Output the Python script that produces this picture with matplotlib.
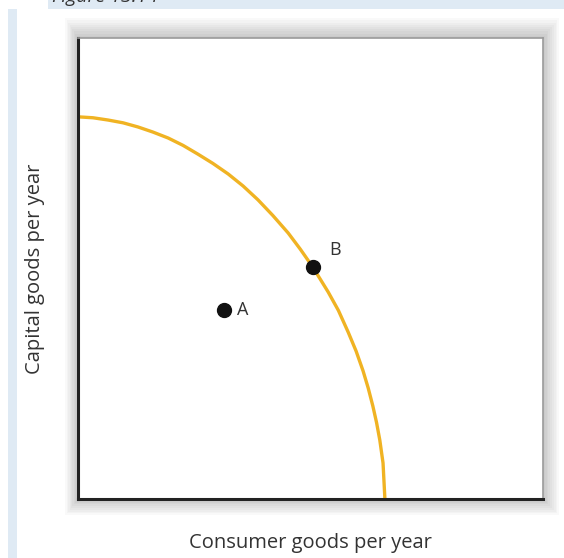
import matplotlib.pyplot as plt
from matplotlib.patches import Rectangle

# production possibilities curve (0-100 scale)
curve_x = [0, 3.2, 6.5, 9.7, 12.9, 16.1, 19.4, 22.6, 25.8, 29.0, 32.3, 35.5, 38.7, 41.9, 45.2,
           47.8, 50.5, 53.8, 56.0, 58.1, 59.8, 61.3, 62.4, 63.4, 64.2, 64.9, 65.6, 66.0]
curve_y = [82.9, 82.7, 82.2, 81.6, 80.7, 79.6, 78.3, 76.7, 74.8, 72.8, 70.5, 67.9, 64.9, 61.5, 57.7,
           54.2, 50.3, 44.9, 40.9, 36.2, 32.1, 27.8, 24.1, 20.2, 16.6, 12.8, 7.8, 0]

point_names = ['A', 'B']
point_x = [31.4, 50.5]
point_y = [41.0, 50.3]

W, H = 564, 558
fig = plt.figure(figsize=(W / 100, H / 100), dpi=100)
fig.patch.set_facecolor('white')

def fx(px):
    return px / W

def fy(py):
    return 1 - py / H

# light blue page bands
blue = '#dfeaf4'
fig.patches.append(Rectangle((fx(48), fy(9)), 1, 9 / H, transform=fig.transFigure,
                             facecolor=blue, edgecolor='none', zorder=0))
fig.patches.append(Rectangle((fx(8), 0), 9 / W, fy(9), transform=fig.transFigure,
                             facecolor=blue, edgecolor='none', zorder=0))
fig.text(fx(52), fy(2), 'Figure 13.14', fontsize=14, style='italic', color='#333333',
         family='Open Sans', va='baseline')

# soft shadow around the plot box
left, top, right, bottom = 78, 38, 543, 499
for pad in range(18, 0, -2):
    fig.patches.append(Rectangle((fx(left - pad * 0.7), fy(bottom + pad * 0.9)),
                                 (right - left + pad * 1.6) / W, (bottom - top + pad * 2.0) / H,
                                 transform=fig.transFigure, facecolor='black',
                                 edgecolor='none', alpha=0.025, zorder=0))

ax = fig.add_axes([fx(left), fy(bottom), (right - left) / W, (bottom - top) / H])
ax.set_zorder(5)
ax.set_facecolor('white')
ax.set_xlim(0, 100)
ax.set_ylim(0, 100)
ax.set_xticks([])
ax.set_yticks([])
for s in ['left', 'bottom']:
    ax.spines[s].set_linewidth(2.2)
    ax.spines[s].set_color('#222222')
for s in ['top', 'right']:
    ax.spines[s].set_linewidth(1.2)
    ax.spines[s].set_color('#9a9a9a')

ax.plot(curve_x, curve_y, color='#F0B323', linewidth=2.4, solid_capstyle='butt',
        solid_joinstyle='round', clip_on=False)
ax.plot(point_x, point_y, 'o', color='#111111', markersize=10, linestyle='none')
ax.text(point_x[0] + 2.8, point_y[0], point_names[0], fontsize=13, family='Open Sans',
        color='#333333', va='center', ha='left')
ax.text(point_x[1] + 3.5, point_y[1] + 3.8, point_names[1], fontsize=13, family='Open Sans',
        color='#333333', va='center', ha='left')

fig.text(fx(310), fy(543), 'Consumer goods per year', fontsize=14.5, family='Open Sans',
         color='#333333', ha='center', va='center')
fig.text(fx(35), fy(269), 'Capital goods per year', fontsize=14.5, family='Open Sans',
         color='#333333', ha='center', va='center', rotation=90)

fig.savefig('out.png', dpi=100)
